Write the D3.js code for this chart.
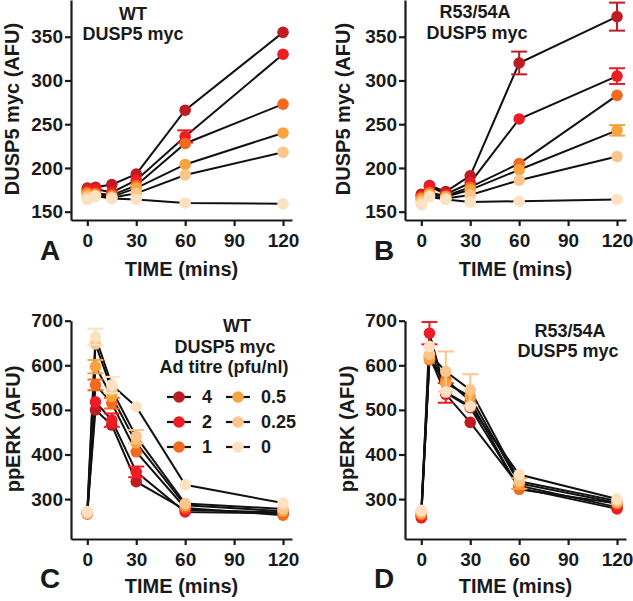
<!DOCTYPE html>
<html><head><meta charset="utf-8">
<script src="https://cdn.jsdelivr.net/npm/d3@7"></script>
<style>
body{margin:0;background:#fff;}
svg text{font-family:"Liberation Sans",Arial,sans-serif;font-weight:bold;fill:#1a1a1a;}
</style></head>
<body><svg id="c" width="633" height="601"></svg>
<script>
// ---- data ----
const times = [0, 5, 15, 30, 60, 120];
const titres = ["4", "2", "1", "0.5", "0.25", "0"];
const xTicks = [0, 30, 60, 90, 120];
const yTicksDusp = [150, 200, 250, 300, 350];
const yTicksErk = [300, 400, 500, 600, 700];

// Panel A: WT DUSP5 myc
const A_4    = [177, 178, 181, 193, 266, 355];
const A_2    = [175, 176, 172, 186, 236, 330];
const A_1    = [172, 171, 169, 180, 228, 273];
const A_05   = [170, 169, 167, 177, 204, 240];
const A_025  = [167, 168, 166, 171, 192, 218];
const A_0    = [164, 168, 165, 164, 160, 159];
const A_err2 = [0, 0, 0, 0, 7, 0];

// Panel B: R53/54A DUSP5 myc
const B_4    = [170, 180, 173, 191, 320, 373];
const B_2    = [168, 179, 170, 183, 256, 305];
const B_1    = [166, 172, 168, 178, 205, 283];
const B_05   = [164, 170, 167, 175, 198, 243];
const B_025  = [161, 168, 165, 169, 186, 213];
const B_0    = [158, 167, 164, 161, 162, 164];
const B_err4 = [0, 0, 0, 0, 13, 16];
const B_err2 = [0, 0, 0, 0, 0, 9];
const B_err05 = [0, 0, 0, 0, 0, 6];

// Panel C: WT ppERK
const C_4    = [270, 500, 466, 339, 276, 270];
const C_2    = [268, 518, 477, 361, 271, 268];
const C_1    = [266, 556, 515, 406, 280, 264];
const C_05   = [270, 597, 530, 426, 286, 273];
const C_025  = [268, 648, 545, 440, 290, 278];
const C_0    = [272, 664, 556, 507, 332, 291];
const C_err2 = [0, 0, 15, 12, 0, 0];
const C_err1 = [0, 12, 12, 0, 0, 0];
const C_err05 = [0, 15, 0, 0, 0, 0];
const C_err025 = [0, 0, 0, 15, 0, 0];
const C_err0 = [0, 18, 18, 0, 0, 0];

// Panel D: R53/54A ppERK
const D_4    = [262, 620, 535, 472, 330, 282];
const D_2    = [258, 672, 538, 505, 325, 278];
const D_1    = [265, 612, 568, 520, 322, 290];
const D_05   = [268, 615, 560, 530, 335, 292];
const D_025  = [272, 625, 586, 545, 340, 296];
const D_0    = [275, 642, 540, 508, 355, 300];
const D_err2 = [0, 25, 22, 0, 0, 0];
const D_err05 = [0, 0, 0, 0, 12, 0];
const D_err025 = [0, 0, 45, 35, 0, 0];

const colors = ["#bf1b22", "#ee1c25", "#f26a1f", "#f7a33f", "#fbc58b", "#fde1c3"];
const zeros = [0, 0, 0, 0, 0, 0];

const svg = d3.select("#c");

function panel(cfg) {
  const g = svg.append("g");
  const x = d3.scaleLinear().domain([-10, 125.5]).range([cfg.left, cfg.left + 221]);
  const y = d3.scaleLinear().domain(cfg.ydom).range([cfg.bottom, cfg.top]);

  const xa = g.append("g").attr("transform", `translate(0,${cfg.bottom})`)
    .call(d3.axisBottom(x).tickValues(xTicks).tickSize(6).tickSizeOuter(0).tickPadding(8));
  const ya = g.append("g").attr("transform", `translate(${cfg.left},0)`)
    .call(d3.axisLeft(y).tickValues(cfg.yticks).tickSize(6).tickSizeOuter(0).tickPadding(2));
  [xa, ya].forEach(a => {
    a.select(".domain").attr("stroke", "#1a1a1a").attr("stroke-width", 2.2);
    a.selectAll(".tick line").attr("stroke", "#1a1a1a").attr("stroke-width", 2.2);
    a.selectAll(".tick text").style("font-size", "19px").style("font-family", '"Liberation Sans",Arial,sans-serif')
      .style("font-weight", "bold").attr("fill", "#1a1a1a");
  });

  const line = d3.line().x((d, i) => x(times[i])).y(d => y(d));
  cfg.series.forEach(s => {
    g.append("path").attr("d", line(s.v)).attr("fill", "none")
      .attr("stroke", "#111").attr("stroke-width", 2);
  });
  cfg.series.forEach((s, si) => {
    const e = s.e || zeros;
    times.forEach((t, i) => {
      if (e[i] > 0) {
        const cx = x(t), y1 = y(s.v[i] + e[i]), y2 = y(s.v[i] - e[i]);
        g.append("line").attr("x1", cx).attr("x2", cx).attr("y1", y1).attr("y2", y2)
          .attr("stroke", colors[si]).attr("stroke-width", 2);
        [y1, y2].forEach(yy => g.append("line").attr("x1", cx - 8).attr("x2", cx + 8)
          .attr("y1", yy).attr("y2", yy).attr("stroke", colors[si]).attr("stroke-width", 2));
      }
    });
    g.selectAll(null).data(s.v).enter().append("circle")
      .attr("cx", (d, i) => x(times[i])).attr("cy", d => y(d)).attr("r", 5.8)
      .attr("fill", colors[si]);
  });

  g.append("text").attr("transform", `translate(${cfg.left - cfg.ytOff},${cfg.ytY}) rotate(-90)`)
    .attr("text-anchor", "middle").attr("dy", "0.35em").style("font-size", "20px").text(cfg.ytitle);
  g.append("text").attr("x", cfg.left + 110.5).attr("y", cfg.bottom + cfg.xtOff)
    .attr("text-anchor", "middle").style("font-size", "20px").text("TIME (mins)");
  g.append("text").attr("x", cfg.left - 31).attr("y", cfg.bottom + cfg.letOff)
    .style("font-size", "28px").text(cfg.letter);
  cfg.notes.forEach(n => g.append("text").attr("x", n[0]).attr("y", n[1])
    .attr("text-anchor", "middle").style("font-size", "18px").text(n[2]));
  return {g, x, y};
}

const mk = (vals, errs) => vals.map((v, i) => ({v, e: errs[i]}));

panel({left: 71, bottom: 220, top: 0, ydom: [140.5, 392], yticks: yTicksDusp,
  ytitle: "DUSP5 myc (AFU)", ytOff: 59, ytY: 109, xtOff: 56, letOff: 40, letter: "A",
  series: mk([A_4, A_2, A_1, A_05, A_025, A_0], [null, A_err2, null, null, null, null]),
  notes: [[133, 20, "WT"], [133, 40, "DUSP5 myc"]]});

panel({left: 405, bottom: 220, top: 0, ydom: [140.5, 392], yticks: yTicksDusp,
  ytitle: "DUSP5 myc (AFU)", ytOff: 62, ytY: 109, xtOff: 56, letOff: 40, letter: "B",
  series: mk([B_4, B_2, B_1, B_05, B_025, B_0], [B_err4, B_err2, null, B_err05, null, null]),
  notes: [[475, 18, "R53/54A"], [477, 39, "DUSP5 myc"]]});

panel({left: 71, bottom: 539, top: 320.7, ydom: [210.5, 700], yticks: yTicksErk,
  ytitle: "ppERK (AFU)", ytOff: 58, ytY: 429, xtOff: 54, letOff: 49, letter: "C",
  series: mk([C_4, C_2, C_1, C_05, C_025, C_0], [null, C_err2, C_err1, C_err05, C_err025, C_err0]),
  notes: [[237, 332, "WT"], [225, 353, "DUSP5 myc"], [224, 373, "Ad titre (pfu/nl)"]]});

panel({left: 405, bottom: 539, top: 320.7, ydom: [210.5, 700], yticks: yTicksErk,
  ytitle: "ppERK (AFU)", ytOff: 58, ytY: 429, xtOff: 54, letOff: 49, letter: "D",
  series: mk([D_4, D_2, D_1, D_05, D_025, D_0], [null, D_err2, null, D_err05, D_err025, null]),
  notes: [[570, 337, "R53/54A"], [568, 357, "DUSP5 myc"]]});

// legend (panel C)
const leg = svg.append("g");
titres.forEach((t, i) => {
  const col = Math.floor(i / 3), row = i % 3;
  const cx = 179 + col * 59, cy = 397 + row * 25;
  leg.append("line").attr("x1", cx - 12).attr("x2", cx + 12).attr("y1", cy).attr("y2", cy)
    .attr("stroke", "#111").attr("stroke-width", 2.2);
  leg.append("circle").attr("cx", cx).attr("cy", cy).attr("r", 5.8).attr("fill", colors[i]);
  leg.append("text").attr("x", cx + 23).attr("y", cy).attr("dy", "0.35em")
    .style("font-size", "18px").text(t);
});
</script></body></html>
